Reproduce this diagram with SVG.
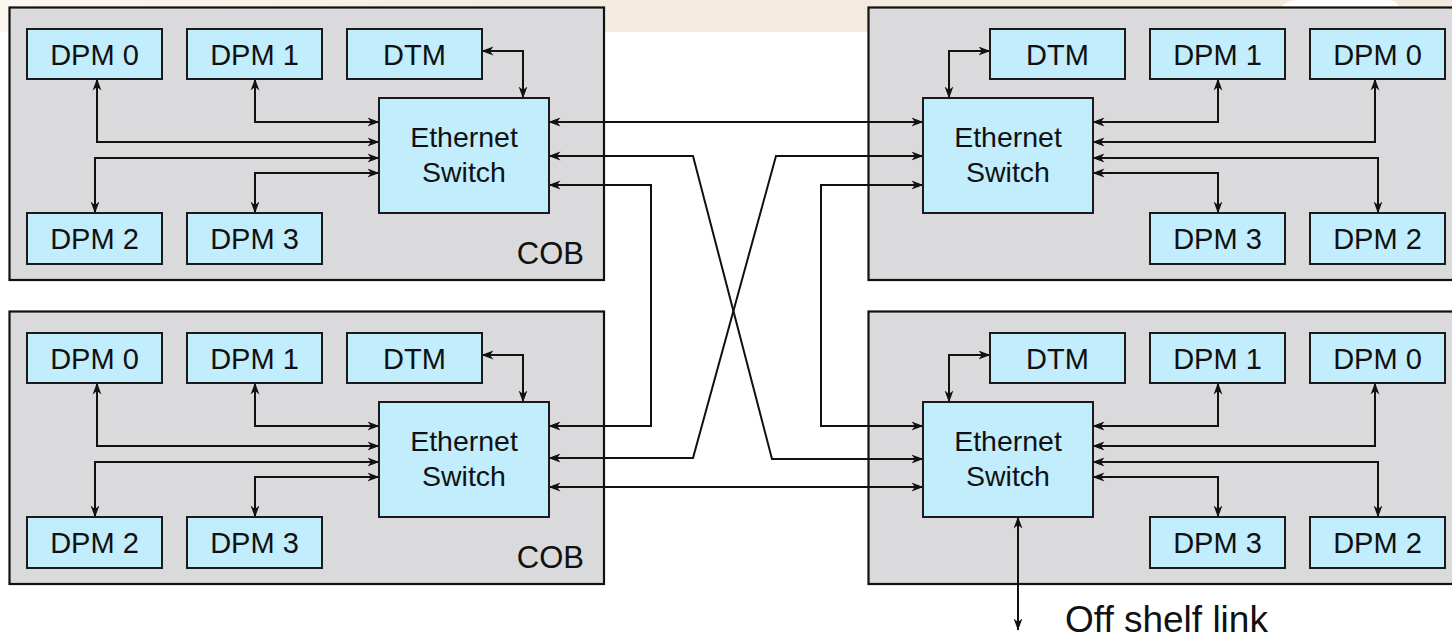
<svg xmlns="http://www.w3.org/2000/svg" width="1452" height="639" viewBox="0 0 1452 639">
  <defs>
    <linearGradient id="band" x1="0" y1="0" x2="1" y2="0">
      <stop offset="0" stop-color="#fbf7f0"/>
      <stop offset="0.35" stop-color="#f4ece0"/>
      <stop offset="1" stop-color="#f2e9dc"/>
    </linearGradient>
    <marker id="ah" viewBox="0 0 12 10" refX="11.5" refY="5" markerWidth="12" markerHeight="10" markerUnits="userSpaceOnUse" orient="auto-start-reverse">
      <path d="M0,0.6 L12,5 L0,9.4 L3.5,5 z" fill="#111"/>
    </marker>
    <style>
      .cob { fill: #dadadd; stroke: #111; stroke-width: 2.2; }
      .box { fill: #c1edfc; stroke: #1a1a1a; stroke-width: 2; }
      .lbl { font-family: "Liberation Sans", Arial, sans-serif; font-size: 29px; fill: #111; text-anchor: middle; }
      .sw { font-size: 28.5px; }
      .cobl { font-family: "Liberation Sans", Arial, sans-serif; font-size: 31px; fill: #111; text-anchor: end; }
      .note { font-family: "Liberation Sans", Arial, sans-serif; font-size: 37px; fill: #111; }
      .wire { fill: none; stroke: #111; stroke-width: 2; marker-start: url(#ah); marker-end: url(#ah); }
    </style>
  </defs>

  <!-- page background -->
  <rect x="0" y="0" width="1452" height="639" fill="#ffffff"/>
  <rect x="0" y="0" width="1452" height="32" fill="url(#band)"/>
  <path d="M1280,8 Q1288,0 1298,0 H1388 Q1396,0 1400,8 Z" fill="#ffffff"/>

  <!-- shelf boards -->
  <g id="cob-top-left"><rect class="cob" x="9.5" y="7.5" width="594.5" height="272.5"/><text class="cobl" x="584" y="264">COB</text></g>
  <g id="cob-bottom-left"><rect class="cob" x="9.5" y="311.5" width="594.5" height="272.5"/><text class="cobl" x="584" y="568">COB</text></g>
  <g id="cob-top-right"><rect class="cob" x="868.5" y="7.5" width="600" height="272.5"/></g>
  <g id="cob-bottom-right"><rect class="cob" x="868.5" y="311.5" width="600" height="272.5"/></g>

  <!-- links -->
  <g id="connectors">
    <!-- top-left board -->
    <path class="wire" d="M482,51 H523 V98"/>
    <path class="wire" d="M255,79 V122 H379"/>
    <path class="wire" d="M97,79 V142 H379"/>
    <path class="wire" d="M379,158 H95 V213"/>
    <path class="wire" d="M379,173 H255 V213"/>
    <!-- bottom-left board -->
    <path class="wire" d="M482,355 H523 V402"/>
    <path class="wire" d="M255,383 V426 H379"/>
    <path class="wire" d="M97,383 V446 H379"/>
    <path class="wire" d="M379,462 H95 V517"/>
    <path class="wire" d="M379,477 H255 V517"/>
    <!-- top-right board -->
    <path class="wire" d="M990,51 H949 V98"/>
    <path class="wire" d="M1218,79 V122 H1093"/>
    <path class="wire" d="M1375,79 V142 H1093"/>
    <path class="wire" d="M1093,158 H1378 V213"/>
    <path class="wire" d="M1093,173 H1218 V213"/>
    <!-- bottom-right board -->
    <path class="wire" d="M990,355 H949 V402"/>
    <path class="wire" d="M1218,383 V426 H1093"/>
    <path class="wire" d="M1375,383 V446 H1093"/>
    <path class="wire" d="M1093,462 H1378 V517"/>
    <path class="wire" d="M1093,477 H1218 V517"/>
    <!-- switch-to-switch mesh -->
    <path class="wire" d="M549,122 H923"/>
    <path class="wire" d="M549,156 H693 L772,459 H923"/>
    <path class="wire" d="M549,185 H651 V426 H549"/>
    <path class="wire" d="M923,156 H776 L693,458 H549"/>
    <path class="wire" d="M923,185 H821 V426 H923"/>
    <path class="wire" d="M549,487 H923"/>
    <!-- uplink -->
    <path class="wire" d="M1018,517 V630"/>
  </g>

  <!-- top-left board modules -->
  <g id="tl-dpm0"><rect class="box" x="27" y="29" width="135" height="50"/><text class="lbl" x="94.5" y="64.5">DPM 0</text></g>
  <g id="tl-dpm1"><rect class="box" x="187" y="29" width="135" height="50"/><text class="lbl" x="254.5" y="64.5">DPM 1</text></g>
  <g id="tl-dtm"><rect class="box" x="347" y="29" width="135" height="50"/><text class="lbl" x="414.5" y="64.5">DTM</text></g>
  <g id="tl-dpm2"><rect class="box" x="27" y="213" width="135" height="51"/><text class="lbl" x="94.5" y="249">DPM 2</text></g>
  <g id="tl-dpm3"><rect class="box" x="187" y="213" width="135" height="51"/><text class="lbl" x="254.5" y="249">DPM 3</text></g>
  <g id="tl-switch"><rect class="box" x="379" y="98" width="170" height="115"/><text class="lbl sw" x="464" y="147">Ethernet</text><text class="lbl sw" x="464" y="182">Switch</text></g>

  <!-- bottom-left board modules -->
  <g id="bl-dpm0"><rect class="box" x="27" y="333" width="135" height="50"/><text class="lbl" x="94.5" y="368.5">DPM 0</text></g>
  <g id="bl-dpm1"><rect class="box" x="187" y="333" width="135" height="50"/><text class="lbl" x="254.5" y="368.5">DPM 1</text></g>
  <g id="bl-dtm"><rect class="box" x="347" y="333" width="135" height="50"/><text class="lbl" x="414.5" y="368.5">DTM</text></g>
  <g id="bl-dpm2"><rect class="box" x="27" y="517" width="135" height="51"/><text class="lbl" x="94.5" y="553">DPM 2</text></g>
  <g id="bl-dpm3"><rect class="box" x="187" y="517" width="135" height="51"/><text class="lbl" x="254.5" y="553">DPM 3</text></g>
  <g id="bl-switch"><rect class="box" x="379" y="402" width="170" height="115"/><text class="lbl sw" x="464" y="451">Ethernet</text><text class="lbl sw" x="464" y="486">Switch</text></g>

  <!-- top-right board modules -->
  <g id="tr-dtm"><rect class="box" x="990" y="29" width="135" height="50"/><text class="lbl" x="1057.5" y="64.5">DTM</text></g>
  <g id="tr-dpm1"><rect class="box" x="1150" y="29" width="135" height="50"/><text class="lbl" x="1217.5" y="64.5">DPM 1</text></g>
  <g id="tr-dpm0"><rect class="box" x="1310" y="29" width="135" height="50"/><text class="lbl" x="1377.5" y="64.5">DPM 0</text></g>
  <g id="tr-dpm3"><rect class="box" x="1150" y="213" width="135" height="51"/><text class="lbl" x="1217.5" y="249">DPM 3</text></g>
  <g id="tr-dpm2"><rect class="box" x="1310" y="213" width="135" height="51"/><text class="lbl" x="1377.5" y="249">DPM 2</text></g>
  <g id="tr-switch"><rect class="box" x="923" y="98" width="170" height="115"/><text class="lbl sw" x="1008" y="147">Ethernet</text><text class="lbl sw" x="1008" y="182">Switch</text></g>

  <!-- bottom-right board modules -->
  <g id="br-dtm"><rect class="box" x="990" y="333" width="135" height="50"/><text class="lbl" x="1057.5" y="368.5">DTM</text></g>
  <g id="br-dpm1"><rect class="box" x="1150" y="333" width="135" height="50"/><text class="lbl" x="1217.5" y="368.5">DPM 1</text></g>
  <g id="br-dpm0"><rect class="box" x="1310" y="333" width="135" height="50"/><text class="lbl" x="1377.5" y="368.5">DPM 0</text></g>
  <g id="br-dpm3"><rect class="box" x="1150" y="517" width="135" height="51"/><text class="lbl" x="1217.5" y="553">DPM 3</text></g>
  <g id="br-dpm2"><rect class="box" x="1310" y="517" width="135" height="51"/><text class="lbl" x="1377.5" y="553">DPM 2</text></g>
  <g id="br-switch"><rect class="box" x="923" y="402" width="170" height="115"/><text class="lbl sw" x="1008" y="451">Ethernet</text><text class="lbl sw" x="1008" y="486">Switch</text></g>

  <g id="off-shelf-label"><text class="note" x="1065" y="632">Off shelf link</text></g>
</svg>
